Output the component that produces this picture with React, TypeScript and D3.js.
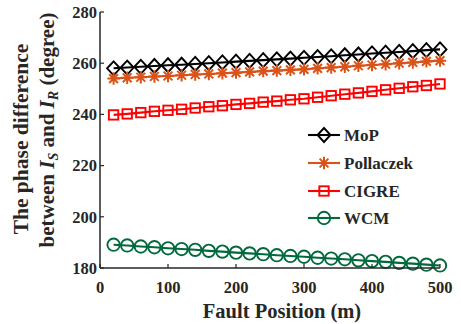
import React, { useEffect, useRef } from "react";
import * as d3 from "d3";

// Fault positions along the line (m)
const positions = [20, 40, 60, 80, 100, 120, 140, 160, 180, 200, 220, 240, 260, 280, 300, 320, 340, 360, 380, 400, 420, 440, 460, 480, 500];

// Phase difference between I_S and I_R (degree) per model
const mopValues = [258.0, 258.3, 258.6, 258.9, 259.2, 259.4, 259.7, 260.0, 260.3, 260.6, 260.9, 261.2, 261.5, 261.8, 262.1, 262.4, 262.7, 263.1, 263.4, 263.8, 264.1, 264.4, 264.7, 265.1, 265.4];
const pollaczekValues = [254.0, 254.3, 254.5, 254.8, 255.0, 255.3, 255.6, 255.8, 256.1, 256.3, 256.6, 256.9, 257.1, 257.4, 257.6, 258.0, 258.3, 258.6, 259.0, 259.3, 259.6, 260.0, 260.3, 260.7, 261.0];
const cigreValues = [239.8, 240.2, 240.7, 241.2, 241.6, 242.0, 242.5, 243.0, 243.4, 243.9, 244.3, 244.8, 245.2, 245.7, 246.1, 246.7, 247.3, 247.9, 248.4, 249.0, 249.6, 250.2, 250.8, 251.3, 251.9];
const wcmValues = [189.1, 188.8, 188.4, 188.1, 187.7, 187.4, 187.1, 186.7, 186.4, 186.0, 185.7, 185.4, 185.0, 184.7, 184.4, 184.0, 183.7, 183.4, 183.0, 182.7, 182.4, 182.0, 181.7, 181.3, 181.0];

const xTicks = [0, 100, 200, 300, 400, 500];
const yTicks = [180, 200, 220, 240, 260, 280];

type MarkerKind = "diamond" | "star" | "square" | "circle";
const seriesNames = ["MoP", "Pollaczek", "CIGRE", "WCM"];
const seriesColors = ["#000000", "#D95319", "#FF0000", "#006A3C"];
const seriesMarkers: MarkerKind[] = ["diamond", "star", "square", "circle"];
const seriesValues = [mopValues, pollaczekValues, cigreValues, wcmValues];

const FONT = "'Liberation Serif', 'Times New Roman', serif";

function drawMarker(g: d3.Selection<SVGGElement, unknown, null, undefined>, kind: MarkerKind, x: number, y: number, color: string) {
  if (kind === "diamond") {
    g.append("path")
      .attr("d", `M${x},${y - 7}L${x + 6.5},${y}L${x},${y + 7}L${x - 6.5},${y}Z`)
      .attr("fill", "none").attr("stroke", color).attr("stroke-width", 1.9);
  } else if (kind === "star") {
    const r = 6.2;
    const d = r * Math.SQRT1_2;
    g.append("path")
      .attr("d", `M${x - r},${y}L${x + r},${y}M${x},${y - r}L${x},${y + r}M${x - d},${y - d}L${x + d},${y + d}M${x - d},${y + d}L${x + d},${y - d}`)
      .attr("fill", "none").attr("stroke", color).attr("stroke-width", 2);
  } else if (kind === "square") {
    g.append("rect")
      .attr("x", x - 4.7).attr("y", y - 4.7).attr("width", 9.4).attr("height", 9.4)
      .attr("fill", "none").attr("stroke", color).attr("stroke-width", 1.9);
  } else {
    g.append("circle")
      .attr("cx", x).attr("cy", y).attr("r", 6.2)
      .attr("fill", "none").attr("stroke", color).attr("stroke-width", 1.9);
  }
}

export default function App() {
  const ref = useRef<SVGSVGElement>(null);

  useEffect(() => {
    document.body.style.margin = "0";
    const svg = d3.select(ref.current);
    svg.selectAll("*").remove();

    const x = d3.scaleLinear().domain([0, 500]).range([100, 440]);
    const y = d3.scaleLinear().domain([180, 280]).range([268, 12]);
    const axisColor = "#262626";

    const root = svg.append("g");

    // Series lines and markers
    const line = d3.line<number>()
      .x((_, i) => x(positions[i]))
      .y((v) => y(v));

    seriesValues.forEach((vals, s) => {
      root.append("path")
        .datum(vals)
        .attr("d", line)
        .attr("fill", "none")
        .attr("stroke", seriesColors[s])
        .attr("stroke-width", 2.1);
      vals.forEach((v, i) => drawMarker(root as any, seriesMarkers[s], x(positions[i]), y(v), seriesColors[s]));
    });

    // Axes (left and bottom only, inward ticks)
    const axes = svg.append("g");
    axes.append("line").attr("x1", 100).attr("x2", 100).attr("y1", 12).attr("y2", 268)
      .attr("stroke", axisColor).attr("stroke-width", 1.5);
    axes.append("line").attr("x1", 100).attr("x2", 440).attr("y1", 268).attr("y2", 268)
      .attr("stroke", axisColor).attr("stroke-width", 1.5);

    yTicks.forEach((t) => {
      axes.append("line").attr("x1", 100).attr("x2", 104).attr("y1", y(t)).attr("y2", y(t))
        .attr("stroke", axisColor).attr("stroke-width", 1.2);
      axes.append("text").attr("x", 97).attr("y", y(t)).attr("dy", "0.35em")
        .attr("text-anchor", "end").attr("font-family", FONT).attr("font-weight", "bold")
        .attr("font-size", 16.5).attr("fill", axisColor).text(String(t));
    });
    xTicks.forEach((t) => {
      axes.append("line").attr("x1", x(t)).attr("x2", x(t)).attr("y1", 268).attr("y2", 264)
        .attr("stroke", axisColor).attr("stroke-width", 1.2);
      axes.append("text").attr("x", x(t)).attr("y", 293)
        .attr("text-anchor", "middle").attr("font-family", FONT).attr("font-weight", "bold")
        .attr("font-size", 16.5).attr("fill", axisColor).text(String(t));
    });

    // Axis titles
    axes.append("text").attr("x", 282).attr("y", 317.5)
      .attr("text-anchor", "middle").attr("font-family", FONT).attr("font-weight", "bold")
      .attr("font-size", 20.5).attr("fill", axisColor).text("Fault Position (m)");

    axes.append("text").attr("transform", "translate(28,139) rotate(-90)")
      .attr("text-anchor", "middle").attr("font-family", FONT).attr("font-weight", "bold")
      .attr("font-size", 21.5).attr("fill", axisColor).text("The phase difference");

    const t2 = axes.append("text").attr("transform", "translate(54,130) rotate(-90)")
      .attr("text-anchor", "middle").attr("font-family", FONT).attr("font-weight", "bold")
      .attr("font-size", 21).attr("fill", axisColor);
    t2.append("tspan").text("between ");
    t2.append("tspan").attr("font-style", "italic").text("I");
    t2.append("tspan").attr("font-style", "italic").attr("font-size", 14).attr("dy", 4).text("S");
    t2.append("tspan").attr("dy", -4).text(" and ");
    t2.append("tspan").attr("font-style", "italic").text("I");
    t2.append("tspan").attr("font-style", "italic").attr("font-size", 14).attr("dy", 4).text("R");
    t2.append("tspan").attr("dy", -4).text(" (degree)");

    // Legend
    const legendY = [135, 163, 191, 218];
    seriesNames.forEach((name, s) => {
      const ly = legendY[s];
      const lg = svg.append("g");
      lg.append("line").attr("x1", 308).attr("x2", 340).attr("y1", ly).attr("y2", ly)
        .attr("stroke", seriesColors[s]).attr("stroke-width", 2.1);
      drawMarker(lg as any, seriesMarkers[s], 324, ly, seriesColors[s]);
      lg.append("text").attr("x", 344).attr("y", ly).attr("dy", "0.35em")
        .attr("font-family", FONT).attr("font-weight", "bold").attr("font-size", 17)
        .attr("fill", axisColor).text(name);
    });
  }, []);

  return <svg ref={ref} width={461} height={324} style={{ display: "block", background: "#fff" }} />;
}
